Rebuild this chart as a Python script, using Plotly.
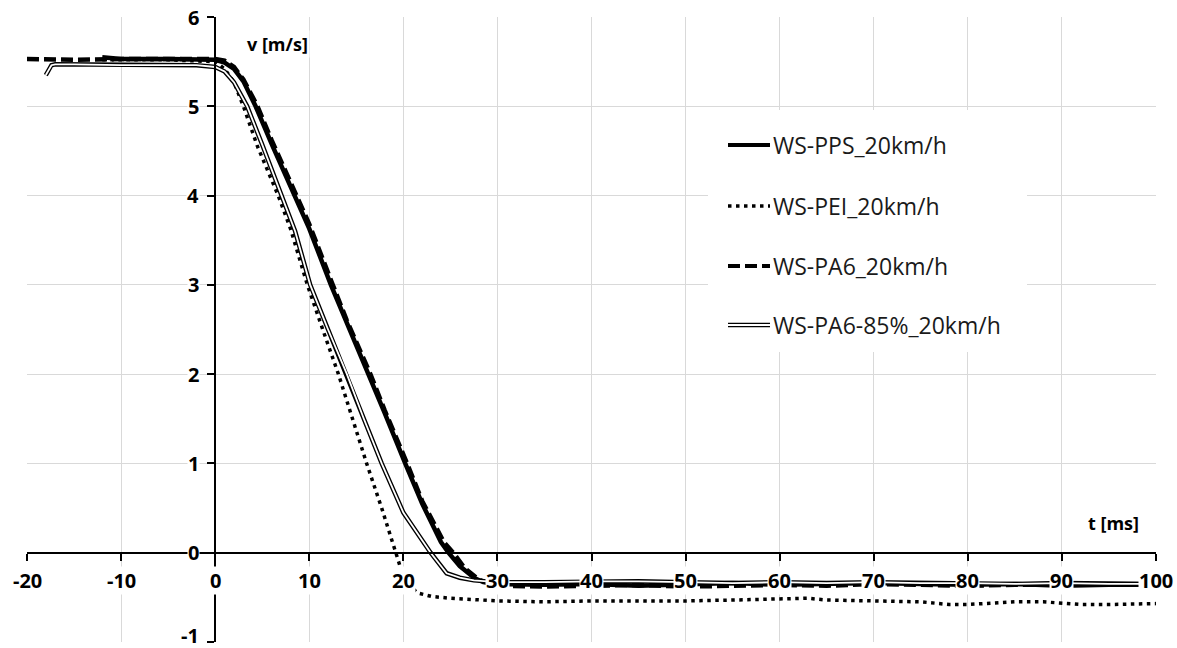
import plotly.graph_objects as go

# ---------------- data ----------------
pps_t = [-12, -10, -5, -2, 0, 1, 2, 3, 4.3, 6, 8.5, 10, 12.3, 14, 16.3, 18, 20.2, 22, 24, 24.8,
         26, 27.5, 28.5, 30, 35, 40, 45, 50, 55, 60, 65, 70, 75, 80, 85, 90, 95, 100]
pps_v = [5.55, 5.53, 5.53, 5.53, 5.52, 5.49, 5.42, 5.28, 5.0, 4.58, 4.0, 3.63, 3.0, 2.58, 2.0, 1.57,
         1.0, 0.55, 0.12, 0.0, -0.15, -0.28, -0.33, -0.35, -0.36, -0.35, -0.37, -0.36, -0.34, -0.36,
         -0.35, -0.34, -0.35, -0.36, -0.35, -0.37, -0.36, -0.36]

pei_t = [-12, -10, -5, 0, 1, 2, 3.0, 4.5, 6.7, 8, 9.8, 11.5, 13.1, 14.6, 16.1, 17.7, 19.2, 19.8,
         20.5, 21.5, 23, 25, 30, 35, 40, 45, 50, 55, 60, 63, 65, 70, 75, 78, 80, 85, 88, 92, 95, 100]
pei_v = [5.52, 5.52, 5.52, 5.50, 5.42, 5.27, 5.0, 4.55, 4.0, 3.63, 3.0, 2.48, 2.0, 1.5, 1.0, 0.5,
         0.0, -0.2, -0.35, -0.45, -0.49, -0.51, -0.54, -0.55, -0.54, -0.54, -0.54, -0.53, -0.52,
         -0.51, -0.53, -0.54, -0.55, -0.58, -0.58, -0.55, -0.55, -0.58, -0.58, -0.57]

pa6_t = [-20, -15, -10, -5, 0, 1, 2, 3, 4.5, 6, 8.7, 10, 12.5, 14, 16.5, 18, 20.4, 22, 24.3, 25.3,
         26.5, 28, 29, 30, 35, 40, 45, 50, 55, 60, 65, 70, 75, 80, 85, 90, 95, 100]
pa6_v = [5.53, 5.52, 5.53, 5.53, 5.53, 5.51, 5.44, 5.30, 5.0, 4.62, 4.0, 3.68, 3.0, 2.6, 2.0, 1.6,
         1.0, 0.58, 0.12, 0.0, -0.17, -0.30, -0.34, -0.37, -0.38, -0.37, -0.36, -0.38, -0.37, -0.36,
         -0.37, -0.35, -0.36, -0.37, -0.36, -0.36, -0.37, -0.36]

pa685_t = [-18, -17.4, -17, -15, -10, -5, -2, 0, 1, 2, 3.4, 5, 7.1, 8.5, 10.1, 12, 14.0, 15.8,
           17.7, 20, 22.9, 24.6, 26, 27.5, 30, 35, 40, 45, 50, 55, 60, 65, 70, 75, 80, 85, 90, 95, 100]
pa685_v = [5.35, 5.46, 5.47, 5.47, 5.46, 5.46, 5.46, 5.44, 5.39, 5.27, 5.0, 4.57, 4.0, 3.6, 3.0,
           2.5, 2.0, 1.5, 1.0, 0.45, 0.0, -0.23, -0.28, -0.31, -0.33, -0.33, -0.32, -0.32, -0.33,
           -0.34, -0.33, -0.34, -0.33, -0.34, -0.34, -0.35, -0.34, -0.35, -0.35]

series_names = ["WS-PPS_20km/h", "WS-PEI_20km/h", "WS-PA6_20km/h", "WS-PA6-85%_20km/h"]
x_ticks = [-20, -10, 0, 10, 20, 30, 40, 50, 60, 70, 80, 90, 100]
y_ticks = [-1, 0, 1, 2, 3, 4, 5, 6]
x_title = "t [ms]"
y_title = "v [m/s]"

# ---------------- layout constants ----------------
W, H = 1177, 648
ML, MR, MT, MB = 27, 21, 17, 6
XR = [-20, 100]
YR = [-1, 6]
FONT = "Open Sans"


def px_x(p):
    return (p - ML) / (W - ML - MR)


def px_y(p):
    return 1 - (p - MT) / (H - MT - MB)


fig = go.Figure()

fig.add_trace(go.Scatter(x=pps_t, y=pps_v, mode="lines", name=series_names[0],
                         line=dict(color="black", width=4.5), showlegend=False))
fig.add_trace(go.Scatter(x=pei_t, y=pei_v, mode="lines", name=series_names[1],
                         line=dict(color="black", width=3.5, dash="3.5px,4.5px"), showlegend=False))
fig.add_trace(go.Scatter(x=pa6_t, y=pa6_v, mode="lines", name=series_names[2],
                         line=dict(color="black", width=4.5, dash="12px,5px"), showlegend=False))
fig.add_trace(go.Scatter(x=pa685_t, y=pa685_v, mode="lines", name=series_names[3],
                         line=dict(color="black", width=4.5), showlegend=False))
fig.add_trace(go.Scatter(x=pa685_t, y=pa685_v, mode="lines", name=series_names[3],
                         line=dict(color="white", width=1.8), showlegend=False, hoverinfo="skip"))

x_pos = (0 - YR[0]) / (YR[1] - YR[0])
y_pos = (0 - XR[0]) / (XR[1] - XR[0])

axis_common = dict(showline=True, linecolor="black", linewidth=2, ticks="outside", ticklen=7,
                   tickwidth=2, tickcolor="black", zeroline=False, showticklabels=False,
                   gridcolor="#d9d9d9", gridwidth=1.3, showgrid=True)

fig.update_layout(
    width=W, height=H,
    margin=dict(l=ML, r=MR, t=MT, b=MB),
    paper_bgcolor="white", plot_bgcolor="white",
    showlegend=False,
    xaxis=dict(range=XR, tickmode="array", tickvals=x_ticks, anchor="free", position=x_pos,
               **axis_common),
    yaxis=dict(range=YR, tickmode="array", tickvals=y_ticks, anchor="free", position=y_pos,
               **axis_common),
    xaxis2=dict(range=XR, tickmode="array", tickvals=x_ticks, overlaying="x", anchor="free",
                position=x_pos, showline=False, showgrid=False, zeroline=False,
                showticklabels=False, ticks="inside", ticklen=7, tickwidth=2, tickcolor="black"),
    yaxis2=dict(range=YR, tickmode="array", tickvals=y_ticks, overlaying="y", anchor="free",
                position=y_pos, side="left", showline=False, showgrid=False, zeroline=False,
                showticklabels=False, ticks="inside", ticklen=7, tickwidth=2, tickcolor="black"),
)

tick_font = dict(family=FONT, size=20, color="black")
annotations = []
for t in x_ticks:
    annotations.append(dict(x=t, y=0, xref="x", yref="y", text=f"<b>{t}</b>", showarrow=False,
                            xanchor="center", yanchor="top", yshift=-13, font=tick_font,
                            bgcolor="white", borderpad=0))
for v in y_ticks:
    annotations.append(dict(x=0, y=v, xref="x", yref="y", text=f"<b>{v}</b>", showarrow=False,
                            xanchor="right", yanchor="middle", xshift=-15,
                            yshift=(7 if v == YR[0] else 0), font=tick_font,
                            bgcolor="white", borderpad=0))
annotations.append(dict(x=px_x(277), y=px_y(44), xref="paper", yref="paper",
                        text=f"<b>{y_title}</b>", showarrow=False,
                        font=dict(family=FONT, size=18, color="black"),
                        xanchor="center", yanchor="middle", bgcolor="white"))
annotations.append(dict(x=px_x(1113), y=px_y(523), xref="paper", yref="paper",
                        text=f"<b>{x_title}</b>", showarrow=False,
                        font=dict(family=FONT, size=18, color="black"),
                        xanchor="center", yanchor="middle", bgcolor="white"))

# ---------------- manual legend ----------------
shapes = [dict(type="rect", xref="paper", yref="paper", x0=px_x(708), x1=px_x(1027),
               y0=px_y(352), y1=px_y(110), fillcolor="white", line=dict(width=0), layer="above")]
rows = [145, 206, 266, 325]
sx0, sx1 = px_x(728), px_x(770)
leg_styles = [dict(color="black", width=4), dict(color="black", width=3.5, dash="3.5px,4.5px"),
              dict(color="black", width=4, dash="12px,5px")]
for i, ry in enumerate(rows):
    if i < 3:
        shapes.append(dict(type="line", xref="paper", yref="paper", x0=sx0, x1=sx1,
                           y0=px_y(ry), y1=px_y(ry), line=leg_styles[i], layer="above"))
    else:
        shapes.append(dict(type="line", xref="paper", yref="paper", x0=sx0, x1=sx1,
                           y0=px_y(ry), y1=px_y(ry), line=dict(color="black", width=4.5),
                           layer="above"))
        shapes.append(dict(type="line", xref="paper", yref="paper", x0=sx0, x1=sx1,
                           y0=px_y(ry), y1=px_y(ry), line=dict(color="white", width=1.8),
                           layer="above"))
    annotations.append(dict(x=px_x(771), y=px_y(ry), xref="paper", yref="paper",
                            text=series_names[i], showarrow=False, xanchor="left",
                            yanchor="middle", font=dict(family=FONT, size=23, color="#1a1a1a")))

fig.update_layout(annotations=annotations, shapes=shapes)

fig.write_html("out.html")
